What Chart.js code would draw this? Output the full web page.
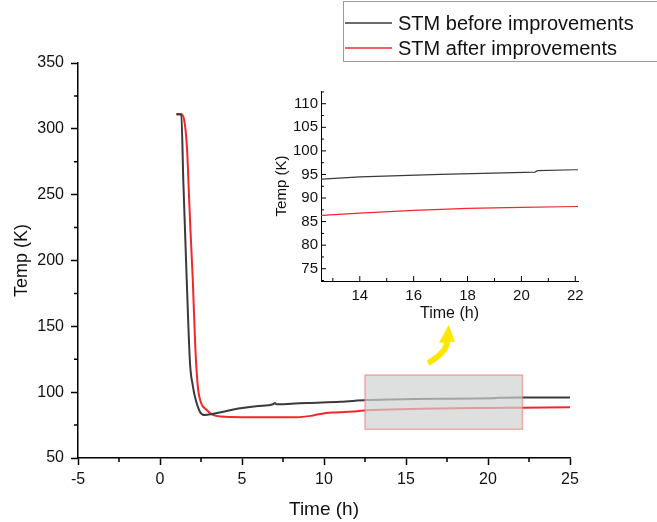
<!DOCTYPE html>
<html lang="en">
<head>
    <meta charset="UTF-8">
    <title>STM temperature</title>
    <script src="https://cdn.jsdelivr.net/npm/chart.js"></script>
    <style>
        body { margin: 0; padding: 0; background: #fff; }
        .wrap { position: relative; width: 657px; height: 522px; }
        #mainChart { position: absolute; left: 0; top: 0; }
        #insetChart { position: absolute; left: 250px; top: 70px; }
    </style>
</head>
<body>
<div class="wrap">
    <canvas id="mainChart" width="657" height="522"></canvas>
    <canvas id="insetChart" width="340" height="260"></canvas>
</div>
<script>
// data
const timeBefore = [1.0, 1.3, 1.42, 1.63, 1.83, 2.0, 2.13, 2.44, 2.74, 3.2, 4.0, 4.9, 6.0, 6.9, 7.0, 7.1, 8.0, 9.0, 11.0, 12.6, 14.0, 17.0, 20.5, 20.6, 22.0, 25.0];
const tempBefore = [311, 311, 261, 185, 122, 105, 96.5, 85, 82.6, 83.5, 85.5, 87.7, 89.5, 90.8, 91.8, 90.8, 91.2, 91.8, 92.7, 94.0, 94.5, 95.0, 95.5, 95.8, 96.0, 96.0];
const timeAfter = [1.0, 1.3, 1.45, 1.55, 1.65, 1.75, 1.85, 2.0, 2.15, 2.3, 2.5, 2.8, 3.2, 3.7, 5.0, 8.3, 9.2, 9.8, 10.5, 12.0, 12.6, 14.0, 16.0, 18.0, 20.0, 22.0, 25.0];
const tempAfter = [311, 311, 308, 300, 285, 255, 225, 185, 135, 105, 92, 87, 83, 81.5, 81, 81, 82, 83.5, 84.5, 85.5, 86.3, 86.8, 87.4, 87.8, 88.0, 88.2, 88.5];

const xTicksMain = [-5, 0, 5, 10, 15, 20, 25];
const yTicksMain = [50, 100, 150, 200, 250, 300, 350];
const xMinorMain = [-2.5, 2.5, 7.5, 12.5, 17.5, 22.5];
const yMinorMain = [75, 125, 175, 225, 275, 325];
const xTicksInset = [14, 16, 18, 20, 22];
const yTicksInset = [75, 80, 85, 90, 95, 100, 105, 110];
const xMinorInset = [13, 15, 17, 19, 21];
const yMinorInset = [72.5, 77.5, 82.5, 87.5, 92.5, 97.5, 102.5, 107.5, 112.5];
const zoomBox = [12.5, 22.1, 71.8, 113];   // t0, t1, T0, T1

const FONT = "'Liberation Sans', Arial, sans-serif";
const BLACK = '#3a3a3a';
const RED = '#f0282a';

const pts = (xs, ys) => xs.map((x, i) => ({ x: x, y: ys[i] }));

// small ticks drawn by hand (chart.js has no minor ticks)
function minorTicks(xMinor, yMinor, xMajor, yMajor, inward, lenMaj, lenMin) {
    return {
        id: 'minorTicks',
        afterDraw(chart) {
            const c = chart.ctx, a = chart.chartArea;
            const xs = chart.scales.x, ys = chart.scales.y;
            const d = inward ? -1 : 1;
            c.save();
            c.strokeStyle = '#000';
            c.lineWidth = inward ? 1 : 1.5;
            c.beginPath();
            const put = (vals, len) => {
                vals.forEach(v => {
                    const px = xs.getPixelForValue(v);
                    if (px < a.left - 0.5 || px > a.right + 0.5) return;
                    c.moveTo(px, a.bottom); c.lineTo(px, a.bottom + d * len);
                });
            };
            const putY = (vals, len) => {
                vals.forEach(v => {
                    const py = ys.getPixelForValue(v);
                    if (py < a.top - 0.5 || py > a.bottom + 0.5) return;
                    c.moveTo(a.left, py); c.lineTo(a.left - d * len, py);
                });
            };
            put(xMinor, lenMin); putY(yMinor, lenMin);
            if (xMajor) { put(xMajor, lenMaj); putY(yMajor, lenMaj); }
            c.stroke();
            c.restore();
        }
    };
}

const boxAndArrow = {
    id: 'boxAndArrow',
    afterDatasetsDraw(chart) {
        const c = chart.ctx, xs = chart.scales.x, ys = chart.scales.y;
        const x0 = xs.getPixelForValue(zoomBox[0]), x1 = xs.getPixelForValue(zoomBox[1]);
        const y0 = ys.getPixelForValue(zoomBox[3]), y1 = ys.getPixelForValue(zoomBox[2]);
        c.save();
        c.fillStyle = 'rgba(208,210,210,0.7)';
        c.fillRect(x0, y0, x1 - x0, y1 - y0);
        c.strokeStyle = 'rgba(240,120,120,0.6)';
        c.lineWidth = 1.5;
        c.strokeRect(x0, y0, x1 - x0, y1 - y0);

        // yellow arrow pointing up at the inset
        const tx = xs.getPixelForValue(16.35), ty = ys.getPixelForValue(122);
        const cx = xs.getPixelForValue(17.55), cy = ys.getPixelForValue(131);
        const bx = xs.getPixelForValue(17.5), by = ys.getPixelForValue(139);
        const hx = xs.getPixelForValue(17.6), hy = ys.getPixelForValue(151);
        c.strokeStyle = '#ffe600';
        c.fillStyle = '#ffe600';
        c.lineWidth = 6;
        c.beginPath();
        c.moveTo(tx, ty);
        c.quadraticCurveTo(cx, cy, bx, by);
        c.stroke();
        c.beginPath();
        c.moveTo(bx - 8, by + 2);
        c.lineTo(bx + 8, by + 1);
        c.lineTo(hx, hy);
        c.closePath();
        c.fill();
        c.restore();
    }
};

const legendBox = {
    id: 'legendBox',
    afterDraw(chart) {
        const c = chart.ctx;
        c.save();
        c.strokeStyle = '#9a9a9a';
        c.lineWidth = 1;
        c.strokeRect(343.5, 1.5, 330, 60);
        c.font = '20px ' + FONT;
        c.textBaseline = 'middle';
        chart.data.datasets.forEach((ds, i) => {
            const y = 23 + i * 25;
            c.strokeStyle = ds.borderColor;
            c.lineWidth = 1.5;
            c.beginPath(); c.moveTo(345, y); c.lineTo(392, y); c.stroke();
            c.fillStyle = '#111';
            c.fillText(ds.label, 398, y + 1);
        });
        c.restore();
    }
};

new Chart(document.getElementById('mainChart'), {
    type: 'line',
    data: {
        datasets: [
            { label: 'STM before improvements', data: pts(timeBefore, tempBefore), borderColor: BLACK, borderWidth: 2, pointRadius: 0, cubicInterpolationMode: 'monotone' },
            { label: 'STM after improvements', data: pts(timeAfter, tempAfter), borderColor: RED, borderWidth: 2, pointRadius: 0, cubicInterpolationMode: 'monotone' }
        ]
    },
    options: {
        responsive: false,
        animation: false,
        layout: { padding: { top: 63, right: 87, left: 0, bottom: 0 } },
        plugins: { legend: { display: false }, tooltip: { enabled: false } },
        scales: {
            x: {
                type: 'linear', min: -5, max: 25,
                afterBuildTicks: s => { s.ticks = xTicksMain.map(v => ({ value: v })); },
                afterFit: s => { s.height = 64; },
                border: { color: '#000', width: 1.5 },
                grid: { drawOnChartArea: false, tickLength: 7, tickColor: '#000', tickWidth: 1.5 },
                ticks: { color: '#111', font: { family: FONT, size: 16 }, padding: 5, maxRotation: 0, autoSkip: false },
                title: { display: true, text: 'Time (h)', color: '#111', font: { family: FONT, size: 19 }, padding: { top: 0, bottom: 1 } }
            },
            y: {
                type: 'linear', min: 50, max: 350,
                afterBuildTicks: s => { s.ticks = yTicksMain.map(v => ({ value: v })); },
                afterFit: s => { s.width = 78; },
                border: { color: '#000', width: 1.5 },
                grid: { drawOnChartArea: false, tickLength: 7, tickColor: '#000', tickWidth: 1.5 },
                ticks: { color: '#111', font: { family: FONT, size: 16 }, padding: 7, autoSkip: false },
                title: { display: true, text: 'Temp (K)', color: '#111', font: { family: FONT, size: 18 }, padding: { top: 11, bottom: 0 } }
            }
        }
    },
    plugins: [boxAndArrow, legendBox, minorTicks(xMinorMain, yMinorMain, null, null, false, 7, 4)]
});

new Chart(document.getElementById('insetChart'), {
    type: 'line',
    data: {
        datasets: [
            { data: pts(timeBefore, tempBefore), borderColor: BLACK, borderWidth: 1.2, pointRadius: 0 },
            { data: pts(timeAfter, tempAfter), borderColor: RED, borderWidth: 1.2, pointRadius: 0 }
        ]
    },
    options: {
        responsive: false,
        animation: false,
        layout: { padding: { top: 21, right: 12, left: 0, bottom: 0 } },
        plugins: { legend: { display: false }, tooltip: { enabled: false } },
        scales: {
            x: {
                type: 'linear', min: 12.56, max: 22.1,
                afterBuildTicks: s => { s.ticks = xTicksInset.map(v => ({ value: v })); },
                afterFit: s => { s.height = 49; },
                border: { color: '#000', width: 1 },
                grid: { drawOnChartArea: false, drawTicks: false },
                ticks: { color: '#111', font: { family: FONT, size: 15 }, padding: 6, maxRotation: 0, autoSkip: false },
                title: { display: true, text: 'Time (h)', color: '#111', font: { family: FONT, size: 16 }, padding: { top: 0, bottom: 7 } }
            },
            y: {
                type: 'linear', min: 72.4, max: 112.7,
                afterBuildTicks: s => { s.ticks = yTicksInset.map(v => ({ value: v })); },
                afterFit: s => { s.width = 71; },
                border: { color: '#000', width: 1 },
                grid: { drawOnChartArea: false, drawTicks: false },
                ticks: { color: '#111', font: { family: FONT, size: 15 }, padding: 3, autoSkip: false },
                title: { display: true, text: 'Temp (K)', color: '#111', font: { family: FONT, size: 15 }, padding: { top: 23, bottom: 0 } }
            }
        }
    },
    plugins: [minorTicks(xMinorInset, yMinorInset, xTicksInset, yTicksInset, true, 5, 3)]
});
</script>
</body>
</html>
